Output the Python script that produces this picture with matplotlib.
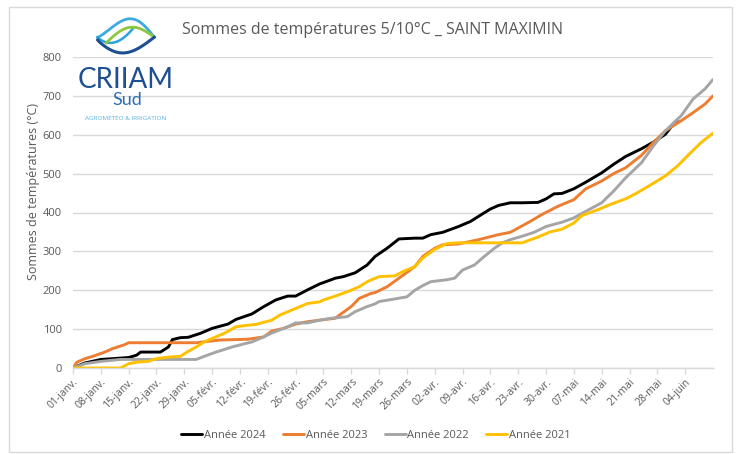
import matplotlib
matplotlib.use("Agg")
import matplotlib.pyplot as plt
import numpy as np
from matplotlib.patches import Rectangle

plt.rcParams['font.family'] = ['Open Sans', 'DejaVu Sans']

# ---- data (day index from 1 January, values in °C) ----
days_2024 = [0, 3, 7, 10, 14, 16, 17, 22, 24, 25, 27, 29, 32, 35, 39, 41, 45, 48, 51, 54, 56, 59,
             62, 66, 68, 71, 74, 76, 79, 82, 86, 88, 90, 93, 97, 100, 102, 105, 107, 110, 113, 117,
             119, 121, 123, 126, 129, 133, 136, 139, 143, 146, 149, 151, 152]
vals_2024 = [0, 13, 22, 24, 27, 33, 41, 41, 54, 73, 78, 79, 89, 102, 113, 125, 139, 158, 175, 185, 185, 201,
             216, 231, 235, 245, 265, 287, 308, 332, 334, 334, 343, 349, 364, 377, 390, 409, 418, 425, 425, 426,
             435, 448, 449, 461, 478, 502, 524, 544, 564, 581, 601, 627, 638]

days_2023 = [0, 1, 3, 5, 8, 10, 13, 14, 22, 31, 37, 44, 48, 50, 53, 56, 59, 62, 66, 67, 70, 72, 75, 76,
             79, 82, 86, 88, 91, 93, 97, 102, 107, 110, 112, 115, 118, 122, 126, 129, 133, 136, 139, 143,
             146, 149, 153, 156, 159, 161]
vals_2023 = [0, 15, 24, 30, 41, 50, 60, 65, 65, 65, 72, 74, 80, 95, 102, 113, 119, 123, 128, 136, 158, 179, 192, 194,
             209, 231, 261, 287, 308, 317, 319, 330, 343, 349, 360, 377, 395, 416, 433, 461, 481, 500, 515, 547,
             580, 610, 636, 657, 679, 700]

days_2022 = [0, 3, 7, 12, 31, 33, 36, 40, 43, 45, 48, 50, 54, 56, 59, 62, 65, 69, 71, 74, 76, 77, 80, 84,
             86, 88, 90, 94, 96, 98, 101, 103, 106, 108, 110, 113, 116, 119, 123, 126, 129, 133, 136, 139,
             143, 146, 149, 153, 156, 159, 161]
vals_2022 = [0, 11, 17, 22, 22, 30, 41, 54, 62, 67, 80, 90, 106, 116, 116, 123, 128, 132, 145, 158, 165, 171, 176, 183,
             200, 212, 222, 227, 231, 252, 265, 283, 308, 322, 330, 339, 349, 364, 375, 386, 403, 425, 455, 489,
             528, 571, 610, 649, 692, 718, 742]

days_2021 = [0, 12, 14, 16, 19, 21, 24, 27, 29, 31, 33, 35, 38, 41, 44, 46, 50, 52, 56, 59, 62, 63, 66, 69,
             72, 74, 77, 81, 83, 86, 88, 91, 94, 97, 113, 117, 120, 123, 126, 128, 132, 135, 139, 142, 145,
             149, 152, 155, 158, 161]
vals_2021 = [0, 0, 11, 15, 17, 24, 28, 30, 43, 54, 67, 76, 89, 106, 110, 112, 123, 136, 153, 166, 170, 175, 185, 196,
             209, 222, 235, 237, 248, 261, 283, 305, 320, 322, 322, 337, 350, 357, 373, 392, 407, 420, 435, 451, 469,
             494, 519, 550, 580, 604]

series_labels = ['Année 2024', 'Année 2023', 'Année 2022', 'Année 2021']
series_colors = ['#000000', '#ED7D31', '#A5A5A5', '#FFC000']

tick_days = list(range(0, 155, 7))
tick_labels = ['01-janv.', '08-janv.', '15-janv.', '22-janv.', '29-janv.', '05-févr.', '12-févr.',
               '19-févr.', '26-févr.', '05-mars', '12-mars', '19-mars', '26-mars', '02-avr.',
               '09-avr.', '16-avr.', '23-avr.', '30-avr.', '07-mai', '14-mai', '21-mai', '28-mai',
               '04-juin']

title = 'Sommes de températures 5/10°C _ SAINT MAXIMIN'
ylabel = 'Sommes de températures (°C)'

# ---- figure ----
fig = plt.figure(figsize=(7.4, 4.54), dpi=100)
W, H = 740, 454
ax = fig.add_axes([73 / W, 1 - 368 / H, (713 - 73) / W, (368 - 57) / H])

all_days = [days_2024, days_2023, days_2022, days_2021]
all_vals = [vals_2024, vals_2023, vals_2022, vals_2021]
for d, v, lab, col in zip(all_days, all_vals, series_labels, series_colors):
    ax.plot(d, v, color=col, lw=2.1, label=lab, solid_joinstyle='round', solid_capstyle='round')

ax.set_xlim(0, 161)
ax.set_ylim(0, 800)
ax.set_yticks(range(0, 801, 100))
ax.yaxis.grid(True, color='#D9D9D9', lw=1)
ax.set_axisbelow(True)
for s in ['top', 'right', 'left']:
    ax.spines[s].set_visible(False)
ax.spines['bottom'].set_color('#D9D9D9')
ax.spines['bottom'].set_linewidth(1)

ax.set_xticks(tick_days)
ax.set_xticklabels(tick_labels, rotation=45, ha='right', rotation_mode='anchor')
ax.tick_params(axis='x', colors='#D9D9D9', length=4, width=1, labelcolor='#595959',
               labelsize=7.5, pad=2)
ax.tick_params(axis='y', length=0, labelcolor='#595959', labelsize=8, pad=8)

fig.text(34 / W, 1 - 192 / H, ylabel, rotation=90, ha='center', va='center',
         color='#595959', fontsize=9)
fig.text(372 / W, 1 - 30 / H, title, ha='center', va='center', color='#595959', fontsize=11.5)

leg = fig.legend(loc='center', bbox_to_anchor=(376 / W, 1 - 435 / H), ncol=4, frameon=False,
                 fontsize=8, handlelength=1.9, handletextpad=0.15, columnspacing=1.55)
for t in leg.get_texts():
    t.set_color('#595959')

# outer chart border
fig.patches.append(Rectangle((9 / W, 1 - 452 / H), (732 - 9) / W, (452 - 7) / H,
                             transform=fig.transFigure, fill=False, edgecolor='#D9D9D9', lw=1))

# ---- logo (decorative) ----
lax = fig.add_axes([96 / W, 1 - 56 / H, 60 / W, 39 / H])
lax.axis('off')
s = np.linspace(0, 1, 120)
# upper light-blue arc
lax.plot(s, 0.48 + 0.52 * np.sin(np.pi * s ** 1.25), color='#3FA9E0', lw=2)
# left light-blue lens (cubic bezier)
p0, p1, p2, p3 = np.array([0, 0.47]), np.array([0.2, 0.2]), np.array([0.4, 0.3]), np.array([0.62, 0.72])
bz = ((1 - s) ** 3)[:, None] * p0 + (3 * (1 - s) ** 2 * s)[:, None] * p1 + \
     (3 * (1 - s) * s ** 2)[:, None] * p2 + (s ** 3)[:, None] * p3
lax.plot(bz[:, 0], bz[:, 1], color='#29A3DC', lw=1.8)
# green wave
g = 0.15 + 0.85 * s
lax.plot(g, 0.32 + 0.16 * s + 0.36 * np.sin(np.pi * s), color='#8DC63F', lw=2)
# dark blue lower arc
lax.plot(s, 0.40 + 0.08 * s - 0.40 * np.sin(np.pi * s ** 0.9), color='#1D4F91', lw=2.2)
lax.set_xlim(-0.03, 1.03)
lax.set_ylim(-0.05, 1.05)

fig.text(126 / W, 1 - 80 / H, 'CRIIAM', ha='center', va='center', color='#1D4F91', fontsize=20,
         family='Lato')
fig.text(127 / W, 1 - 100 / H, 'Sud', ha='center', va='center', color='#2A6DB5', fontsize=13,
         family='Lato')
fig.text(126 / W, 1 - 119 / H, 'AGROMÉTÉO & IRRIGATION', ha='center', va='center', color='#5FB0E0',
         fontsize=4.6)

fig.savefig('out.png', dpi=100, facecolor='white')
